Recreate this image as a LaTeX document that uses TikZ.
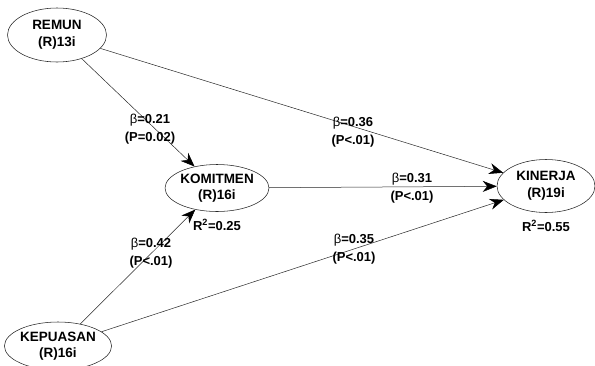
\documentclass[tikz,border=0pt]{standalone}
\usepackage{fontspec}
\setmainfont{Liberation Sans}
\usetikzlibrary{shapes.geometric,arrows.meta}
\begin{document}
\begin{tikzpicture}[x=1pt,y=-1pt,
  lv/.style={draw=black!85,line width=0.55pt,ellipse,inner sep=0pt,align=center,
    font=\fontsize{13.5}{16.5}\selectfont\bfseries},
  path/.style={draw=black!85,line width=0.5pt,-{Stealth[length=14pt,width=11pt,inset=4.5pt,black]}},
  lab/.style={align=center,inner sep=0pt,font=\fontsize{13}{18}\selectfont\bfseries},
  rsq/.style={inner sep=0pt,font=\fontsize{13}{15}\selectfont\bfseries}]
\useasboundingbox (0,0) rectangle (595,365);
\node[lv,minimum width=99pt,minimum height=54pt] (remun) at (57,35) {REMUN\\(R)13i};
\node[lv,minimum width=99pt,minimum height=47pt] (komit) at (217,188) {KOMITMEN\\(R)16i};
\node[lv,minimum width=101pt,minimum height=48pt] (kepu) at (58,346) {KEPUASAN\\(R)16i};
\node[lv,minimum width=98pt,minimum height=53pt] (kin) at (546,186) {KINERJA\\(R)19i};
\draw[path] (remun) -- (komit);
\draw[path] (remun) -- (kin);
\draw[path] (komit) -- (kin);
\draw[path] (kepu) -- (komit);
\draw[path] (kepu) -- (kin);
\node[lab] (l1) at (150,129) {{\mdseries β}=0.21\\(P=0.02)};
\node[lab] (l2) at (151,253) {{\mdseries β}=0.42\\(P<.01)};
\node[lab] (l3) at (353,132) {{\mdseries β}=0.36\\(P<.01)};
\node[lab] (l4) at (412,188) {{\mdseries β}=0.31\\(P<.01)};
\node[lab] (l5) at (354,249) {{\mdseries β}=0.35\\(P<.01)};
\node[rsq] (r1) at (217,225) {R\textsuperscript{2}=0.25};
\node[rsq] (r2) at (546,226) {R\textsuperscript{2}=0.55};
\end{tikzpicture}
\end{document}
